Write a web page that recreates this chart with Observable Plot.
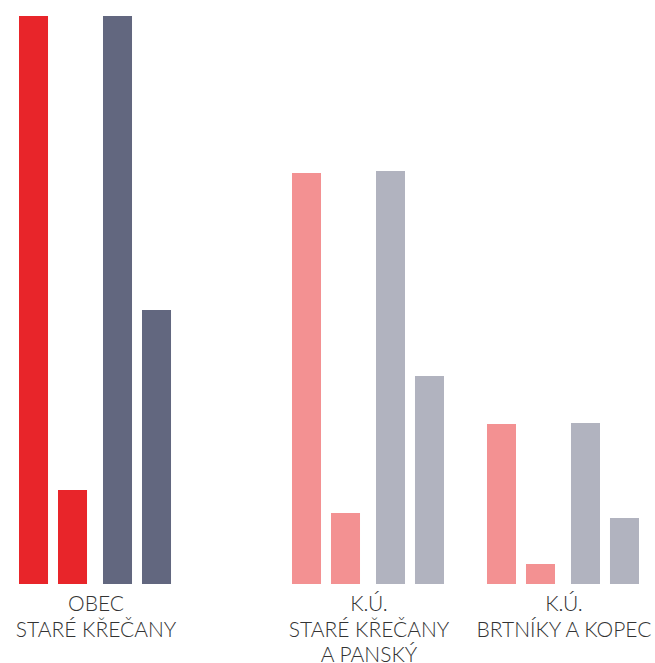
<!DOCTYPE html>
<html>
<head>
<meta charset="utf-8">
<script src="https://cdn.jsdelivr.net/npm/d3@7"></script>
<script src="https://cdn.jsdelivr.net/npm/@observablehq/plot@0.6"></script>
<style>
  html, body { margin: 0; padding: 0; background: #fff; }
  #chart svg { display: block; }
</style>
</head>
<body>
<div id="chart"></div>
<script>
// Group labels (category axis)
const groups = ["OBEC\nSTARÉ KŘEČANY", "K.Ú.\nSTARÉ KŘEČANY\nA PANSKÝ", "K.Ú.\nBRTNÍKY A KOPEC"];
// Four bars per group (relative units)
const values = [
  [568, 94, 568, 274],
  [411, 71, 413, 208],
  [160, 20, 161, 66]
];
// Colours: first group saturated, others muted
const reds  = ["#e8252a", "#f39192", "#f39192"];
const greys = ["#62677f", "#b1b3bf", "#b1b3bf"];
// Spacer slots inserted after each group (layout gaps)
const spacersAfter = [3, 1, 0];

// Build slot domain and data
const domain = [];
const data = [];
groups.forEach((g, i) => {
  values[i].forEach((v, j) => {
    const slot = `${i}-${j}`;
    domain.push(slot);
    data.push({slot, value: v, pair: j < 2 ? 0 : 1, color: j < 2 ? reds[i] : greys[i]});
  });
  for (let k = 0; k < spacersAfter[i]; k++) domain.push(`sp-${i}-${k}`);
});
const labels = groups.map((g, i) => ({slot: `${i}-1`, label: g}));

const chart = Plot.plot({
  width: 655,
  height: 663,
  marginLeft: 19,
  marginRight: 22,
  marginTop: 16,
  marginBottom: 79,
  x: {type: "band", domain, paddingInner: 0.256, paddingOuter: 0, round: false, axis: null},
  y: {domain: [0, 568], axis: null},
  color: {type: "identity"},
  marks: [
    Plot.barY(data.filter(d => d.pair === 0), {x: "slot", y: "value", fill: "color"}),
    Plot.barY(data.filter(d => d.pair === 1), {x: "slot", y: "value", fill: "color", dx: 6}),
    Plot.text(labels, {
      x: "slot", y: 0, text: "label", dx: 23, dy: 9,
      lineAnchor: "top", lineHeight: 1.2,
      fontSize: 21, fill: "#333", fontWeight: 300,
      fontFamily: "Lato, 'Open Sans', sans-serif"
    })
  ]
});
document.getElementById("chart").appendChild(chart);
</script>
</body>
</html>
